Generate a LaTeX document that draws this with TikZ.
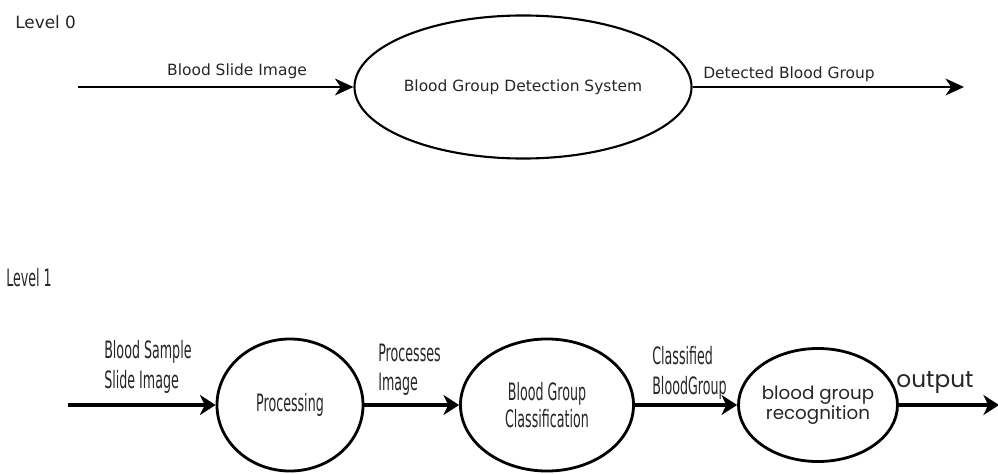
\documentclass[tikz,border=0pt]{standalone}
\usepackage{fontspec}
\setmainfont{DejaVu Sans}
\newfontfamily\narrowfont[FakeStretch=0.53]{DejaVu Sans}
\newfontfamily\roundfont{Poppins}
\usetikzlibrary{
    arrows.meta,
    positioning,
    shapes.geometric,
}

\begin{document}
\begin{tikzpicture}[
        x=0.025cm, y=-0.025cm,
        process/.style={ellipse, draw, line width=1.5pt, inner sep=0pt,
            text=black!85, font=\fontsize{11}{13}\selectfont},
        subprocess/.style={process, line width=2pt, align=center,
            font=\narrowfont\fontsize{17}{19}\selectfont},
        flow/.style={-{Stealth[length=4.6mm, width=4.2mm, inset=1.4mm]}, line width=1.5pt},
        subflow/.style={-{Stealth[length=3.9mm, width=5mm, inset=1.2mm]}, line width=2.2pt},
        label/.style={text=black!85, inner sep=0pt, font=\fontsize{11}{13}\selectfont},
        sublabel/.style={label, align=left, anchor=west,
            font=\narrowfont\fontsize{17}{21}\selectfont},
    ]
        \useasboundingbox (0,0) rectangle (998,473);

        % Level 0: context diagram
        \node[label, anchor=west, font=\fontsize{12}{14}\selectfont] (level0) at (15,22) {Level 0};
        \node[process, minimum width=6.925cm, minimum height=3.575cm] (system) at (523,87)
            {Blood Group Detection System};
        \coordinate (source) at (78,87);
        \coordinate (sink) at (964,87);
        \draw[flow] (source) -- (system.west);
        \draw[flow] (system.east) -- (sink);
        \node[label] (slide) at (237,71) {Blood Slide Image};
        \node[label] (detected) at (789,74) {Detected Blood Group};

        % Level 1: processes
        \node[sublabel] (level1) at (6,278) {Level 1};
        \node[subprocess, minimum width=3.65cm, minimum height=3.3cm] (processing) at (290,405)
            {Processing};
        \node[subprocess, minimum width=4.325cm, minimum height=3.3cm] (classify) at (547,405)
            {Blood Group\\Classification};
        \node[subprocess, minimum width=3.5cm, minimum height=2.825cm,
            font=\roundfont\fontsize{13}{11}\selectfont] (recognize) at (818,405)
            {blood group\\recognition};

        % Level 1: data flows
        \coordinate (input) at (68,405);
        \coordinate (output) at (999,405);
        \draw[subflow] (input) -- (processing.west);
        \draw[subflow] (processing.east) -- (classify.west);
        \draw[subflow] (classify.east) -- (recognize.west);
        \draw[subflow] (recognize.east) -- (output);
        \node[sublabel] (sample) at (104,367) {Blood Sample\\Slide Image};
        \node[sublabel] (processed) at (378,370) {Processes\\Image};
        \node[sublabel] (classified) at (652,373) {Classified\\BloodGroup};
        \node[label, font=\roundfont\fontsize{16.5}{18}\selectfont] (result) at (935,383) {output};
    \end{tikzpicture}
\end{document}
